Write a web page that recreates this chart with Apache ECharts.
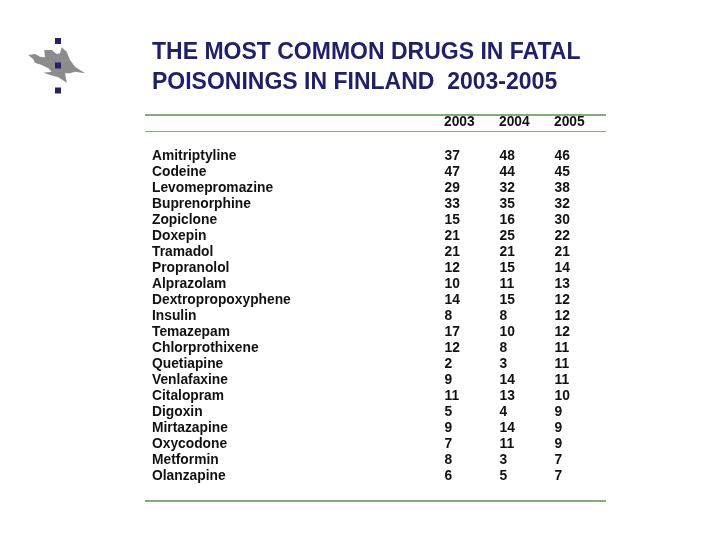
<!DOCTYPE html>
<html>
<head>
<meta charset="utf-8">
<style>html,body{margin:0;padding:0;background:#fff}#chart{width:720px;height:540px}</style>
<script src="https://cdn.jsdelivr.net/npm/echarts@6/dist/echarts.min.js"></script>
</head>
<body>
<div id="chart"></div>
<script>
var years = ['2003', '2004', '2005'];
var drugs = ['Amitriptyline', 'Codeine', 'Levomepromazine', 'Buprenorphine', 'Zopiclone', 'Doxepin', 'Tramadol', 'Propranolol', 'Alprazolam', 'Dextropropoxyphene', 'Insulin', 'Temazepam', 'Chlorprothixene', 'Quetiapine', 'Venlafaxine', 'Citalopram', 'Digoxin', 'Mirtazapine', 'Oxycodone', 'Metformin', 'Olanzapine'];
var deaths2003 = [37, 47, 29, 33, 15, 21, 21, 12, 10, 14, 8, 17, 12, 2, 9, 11, 5, 9, 7, 8, 6];
var deaths2004 = [48, 44, 32, 35, 16, 25, 21, 15, 11, 15, 8, 10, 8, 3, 14, 13, 4, 14, 11, 3, 5];
var deaths2005 = [46, 45, 38, 32, 30, 22, 21, 14, 13, 12, 12, 12, 11, 11, 11, 10, 9, 9, 9, 7, 7];

var textColor = '#111';
var titleColor = '#1f1f6b';
var font = 'Liberation Sans';
var ruleColor = '#7fae78';
var navy = '#25206a';

// logo outline, flame shape
var flame = [[28.3,55],[35,54],[40,56.7],[45,57.3],[44.3,50],[51.7,50],[56.7,54],[60,53.3],[61.7,47.3],[66.7,51.7],[70,60],[75,66.7],[85,73.3],[75,71.7],[70,73.3],[65,73.3],[66.7,82.7],[58.3,77.3],[50,75],[43.3,72.7],[51.7,71.7],[48.3,68.3],[41.7,65],[35,62.7],[33.3,59.3]];

function rect(x, y, w, h, color) {
    return { type: 'rect', silent: true, shape: { x: x, y: y, width: w, height: h }, style: { fill: color } };
}

function yearSeries(name, values) {
    return {
        name: name,
        type: 'scatter',
        symbolSize: 1,
        itemStyle: { color: 'transparent' },
        silent: true,
        label: {
            show: true,
            position: 'right',
            distance: 0,
            color: textColor,
            opacity: 1,
            fontFamily: font,
            fontWeight: 'bold',
            fontSize: 13.8,
            formatter: function (p) { return p.value[2]; }
        },
        data: values.map(function (v, i) { return [name, drugs[i], v]; })
    };
}

var myChart = echarts.init(document.getElementById('chart'));
myChart.setOption({
    animation: false,
    backgroundColor: '#fff',
    title: {
        text: 'THE MOST COMMON DRUGS IN FATAL\nPOISONINGS IN FINLAND  2003-2005',
        left: 152,
        top: 38,
        padding: 0,
        textStyle: { color: titleColor, fontFamily: font, fontWeight: 'bold', fontSize: 23, lineHeight: 30 }
    },
    grid: { left: 444, right: 166, top: 148, height: 336.6 },
    xAxis: {
        type: 'category',
        position: 'top',
        data: years,
        boundaryGap: false,
        axisLine: { show: false },
        axisTick: { show: false },
        splitLine: { show: false },
        axisLabel: { interval: 0, align: 'left', margin: 19, color: textColor, fontFamily: font, fontWeight: 'bold', fontSize: 13.8 }
    },
    yAxis: {
        type: 'category',
        inverse: true,
        data: drugs,
        axisLine: { show: false },
        axisTick: { show: false },
        splitLine: { show: false },
        axisLabel: { interval: 0, align: 'left', margin: 292, color: textColor, fontFamily: font, fontWeight: 'bold', fontSize: 13.8 }
    },
    series: [
        yearSeries(years[0], deaths2003),
        yearSeries(years[1], deaths2004),
        yearSeries(years[2], deaths2005)
    ],
    graphic: [
        rect(145, 114, 461, 2, ruleColor),
        rect(145, 131, 461, 1, ruleColor),
        rect(145, 500, 461, 2, ruleColor),
        { type: 'polygon', silent: true, shape: { points: flame }, style: { fill: '#8c8c8c' } },
        rect(55, 38, 6, 6, navy),
        rect(55, 62.5, 6, 6, navy),
        rect(55, 87.5, 6, 6, navy)
    ]
});
</script>
</body>
</html>
